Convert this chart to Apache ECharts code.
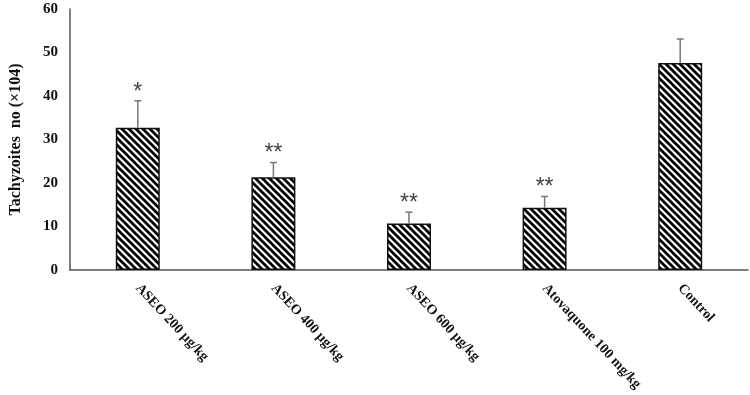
<!DOCTYPE html>
<html>
<head>
<meta charset="utf-8">
<script src="https://cdn.jsdelivr.net/npm/echarts@6/dist/echarts.min.js"></script>
<style>html,body{margin:0;padding:0;background:#fff}#c{width:750px;height:395px}</style>
</head>
<body>
<div id="c"></div>
<script>
const categories = ['ASEO 200 µg/kg', 'ASEO 400 µg/kg', 'ASEO 600 µg/kg', 'Atovaquone 100 mg/kg', 'Control'];
const means = [32.7, 21.3, 10.7, 14.3, 47.6];
const errors = [6.2, 3.4, 2.6, 2.6, 5.5];
const marks = ['*', '**', '**', '**', ''];
const yTicks = [0, 10, 20, 30, 40, 50, 60];

function makePattern() {
  const n = 7;
  const cv = document.createElement('canvas');
  cv.width = n; cv.height = n;
  const ctx = cv.getContext('2d');
  ctx.fillStyle = '#fff';
  ctx.fillRect(0, 0, n, n);
  ctx.strokeStyle = '#000';
  ctx.lineWidth = 2.7;
  for (let k = -2; k <= 2; k++) {
    ctx.beginPath();
    ctx.moveTo(k * n - 1, -1);
    ctx.lineTo(k * n + n + 1, n + 1);
    ctx.stroke();
  }
  return cv;
}

const chart = echarts.init(document.getElementById('c'), null, {renderer: 'canvas'});
const serif = 'Liberation Serif, Times New Roman, serif';

chart.setOption({
  animation: false,
  grid: {left: 66, right: 2, top: 9, bottom: 125},
  xAxis: {
    type: 'category',
    data: categories,
    axisLine: {lineStyle: {color: '#555', width: 1.5}},
    axisTick: {show: false},
    axisLabel: {
      rotate: -47, margin: 16, interval: 0,
      fontFamily: serif, fontWeight: 'bold', fontSize: 14, color: '#111'
    }
  },
  yAxis: {
    type: 'value', min: 0, max: 60, interval: 10,
    name: 'Tachyzoites  no (×104)',
    nameLocation: 'middle', nameGap: 46, nameRotate: 90,
    nameTextStyle: {fontFamily: serif, fontWeight: 'bold', fontSize: 16, color: '#111'},
    axisLine: {show: true, lineStyle: {color: '#555', width: 1.5}},
    axisTick: {show: false},
    splitLine: {show: false},
    axisLabel: {
      margin: 12, fontFamily: serif, fontWeight: 'bold', fontSize: 15, color: '#111',
      formatter: v => yTicks.includes(v) ? String(v) : ''
    }
  },
  series: [
    {
      type: 'bar',
      data: means,
      barWidth: 44,
      itemStyle: {
        color: {image: makePattern(), repeat: 'repeat'},
        borderColor: '#111', borderWidth: 1.5
      }
    },
    {
      type: 'custom',
      data: means.map((m, i) => [i, m, m + errors[i], marks[i]]),
      renderItem: function (params, api) {
        const base = api.coord([api.value(0), api.value(1)]);
        const top = api.coord([api.value(0), api.value(2)]);
        const x = base[0];
        const children = [
          {type: 'line', shape: {x1: x, y1: base[1], x2: x, y2: top[1]}, style: {stroke: '#777', lineWidth: 1.5}},
          {type: 'line', shape: {x1: x - 3.5, y1: top[1], x2: x + 3.5, y2: top[1]}, style: {stroke: '#777', lineWidth: 1.5}}
        ];
        const mk = marks[params.dataIndex];
        if (mk) {
          children.push({
            type: 'text',
            style: {
              text: mk, x: x, y: top[1] + 3,
              fill: '#444', font: '23px Liberation Sans, Arial, sans-serif',
              align: 'center', verticalAlign: 'bottom'
            }
          });
        }
        return {type: 'group', children: children};
      },
      z: 5
    }
  ]
});
</script>
</body>
</html>
